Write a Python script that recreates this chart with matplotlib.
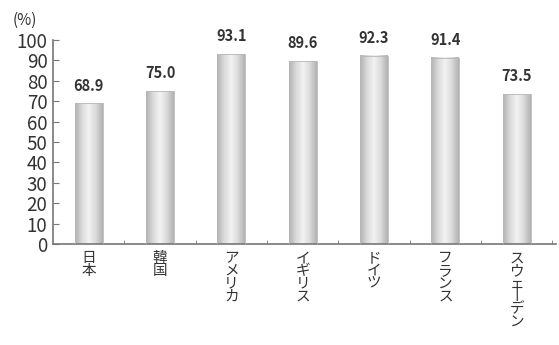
import matplotlib
matplotlib.use("Agg")
import matplotlib.pyplot as plt
import numpy as np
from matplotlib.colors import LinearSegmentedColormap

categories = ["日本", "韓国", "アメリカ", "イギリス", "ドイツ", "フランス", "スウェーデン"]
values = [68.9, 75.0, 93.1, 89.6, 92.3, 91.4, 73.5]
yticks = [0, 10, 20, 30, 40, 50, 60, 70, 80, 90, 100]

plt.rcParams['font.family'] = ['Noto Sans CJK JP', 'DejaVu Sans']

fig = plt.figure(figsize=(5.59, 3.45), dpi=100)
ax = fig.add_axes([53/559, 101/345, 503/559, 204/345])

tc = '#333333'
axc = '#777777'
bw = 0.39
cmap = LinearSegmentedColormap.from_list('g', ['#b2b2b2', '#dadada', '#f3f3f3', '#dadada', '#b2b2b2'])
grad = np.linspace(0, 1, 64).reshape(1, -1)
for i, v in enumerate(values):
    ax.imshow(grad, cmap=cmap, extent=[i - bw/2, i + bw/2, 0, v], aspect='auto', zorder=2)
    ax.bar(i, v, width=bw, facecolor='none', edgecolor='#b8b8b8', linewidth=0.6, zorder=3)
    ax.annotate(f"{v:.1f}", (i, v), xytext=(0, 7), textcoords='offset points',
                ha='center', va='bottom', fontsize=10.5, fontweight='bold', color=tc)

ax.set_xlim(-0.5, 6.55)
ax.set_ylim(0, 100)
for s in ['top', 'right']:
    ax.spines[s].set_visible(False)
for s in ['left', 'bottom']:
    ax.spines[s].set_color(axc)
    ax.spines[s].set_linewidth(1.2)

ax.set_yticks(yticks)
ax.set_yticklabels([str(t) for t in yticks], fontsize=13.5, color=tc)
ax.tick_params(axis='y', direction='in', length=4, color=axc, pad=4)

ax.set_xticks(np.arange(len(categories)))
ax.set_xticklabels([])
ax.tick_params(axis='x', which='major', length=0)
ax.set_xticks(np.arange(len(categories)) + 0.5, minor=True)
ax.tick_params(axis='x', which='minor', direction='in', length=3, color=axc)

for i, c in enumerate(categories):
    vert = "\n".join(c.replace("ー", "丨"))
    ax.text(i, -3.5, vert, ha='center', va='top', fontsize=10.5, color=tc,
            linespacing=0.88, transform=ax.transData)

fig.text(13/559, 1 - 20/345, "(%)", ha='left', va='center', fontsize=11, color=tc)

fig.savefig("out.png", dpi=100, facecolor='white')
